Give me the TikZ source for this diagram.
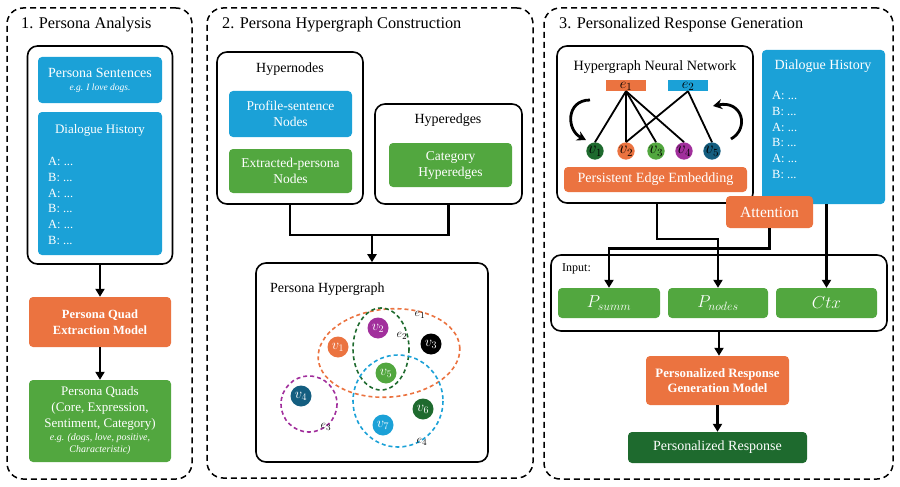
\documentclass[tikz,border=0pt]{standalone}
\usepackage{fontspec}
\setmainfont{Liberation Serif}
\usetikzlibrary{arrows.meta}
\definecolor{hblue}{HTML}{1BA1D7}
\definecolor{horange}{HTML}{EB7340}
\definecolor{hgreen}{HTML}{52A73F}
\definecolor{hdarkgreen}{HTML}{1E6A2E}
\definecolor{hpurple}{HTML}{A12F9C}
\definecolor{hteal}{HTML}{145E80}
\tikzset{>={Triangle[length=8pt,width=9pt]}}
\tikzset{
  boxsize/.style 2 args={minimum width=#1pt, minimum height=#2pt},
  panel/.style={draw, line width=1.5pt, dash pattern=on 6pt off 4pt, rounded corners=16pt},
  frame/.style={draw, line width=1.6pt, rounded corners=10pt},
  title/.style={inner sep=0pt, font=\fontsize{16.3}{19}\selectfont},
  caption/.style={inner sep=0pt, font=\fontsize{14}{16}\selectfont},
  box/.style={rounded corners=4pt, text=white, align=center, inner sep=0pt, font=\fontsize{13.5}{16}\selectfont},
  bluebox/.style={box, fill=hblue},
  orangebox/.style={box, fill=horange},
  greenbox/.style={box, fill=hgreen},
  boxtext/.style={inner sep=0pt, text=white, font=\fontsize{13}{15}\selectfont},
  lines/.style={inner sep=0pt, text=white, align=left, anchor=north west, font=\fontsize{12.5}{15.8}\selectfont},
  flow/.style={line width=2.6pt},
  vertex/.style={circle, inner sep=0pt, minimum size=21pt, text=white, font=\fontsize{14}{15}\selectfont},
  hnode/.style={circle, inner sep=0pt, minimum size=16pt, font=\fontsize{16}{16}\selectfont},
  edgelabel/.style={inner sep=0pt, font=\fontsize{13}{14}\selectfont},
  hyperedge/.style={line width=1.6pt, dash pattern=on 4pt off 3pt},
}
\begin{document}
\begin{tikzpicture}[x=1pt, y=-1pt]
\useasboundingbox (0,0) rectangle (900,487);

% 1. persona analysis
\node[panel, boxsize={185}{471}] (analysis) at (99.5,243.5) {};
\node[title, anchor=base west] (analysistitle) at (21,29) {1. Persona Analysis};
\node[frame, boxsize={145}{218}] (p1frame) at (100,155) {};
\node[bluebox, boxsize={124}{46}, font=\fontsize{14}{16}\selectfont] (sentences) at (100,80) {Persona Sentences\\[-3pt]{\fontsize{9.5}{11}\selectfont\itshape e.g. I love dogs.}};
\node[bluebox, boxsize={124}{143}] (history1) at (100,183.5) {};
\node[boxtext] (history1title) at (100,130) {Dialogue History};
\node[lines] (history1lines) at (48,157) {A: ...\\B: ...\\A: ...\\B: ...\\A: ...\\B: ...};
\node[orangebox, boxsize={142}{50}, font=\bfseries\fontsize{12.5}{16}\selectfont] (quadmodel) at (100,322) {Persona Quad\\Extraction Model};
\node[greenbox, boxsize={142}{82}, font=\fontsize{13}{16}\selectfont] (quads) at (100,421) {Persona Quads\\(Core, Expression,\\Sentiment, Category)\\[-3pt]{\fontsize{10}{11}\selectfont\itshape e.g. (dogs, love, positive,}\\[-4pt]{\fontsize{10}{11}\selectfont\itshape Characteristic)}};
\draw[->, flow] (p1frame) -- (quadmodel);
\draw[->, flow] (quadmodel) -- (quads);

% 2. persona hypergraph construction
\node[panel, boxsize={326}{470}] (construction) at (370,243) {};
\node[title, anchor=base west] (constructiontitle) at (222,29) {2. Persona Hypergraph Construction};
\node[frame, boxsize={146}{152}] (hypernodes) at (290,128) {};
\node[caption] (hypernodestitle) at (290,69) {Hypernodes};
\node[bluebox, boxsize={123}{46}] (profile) at (290.5,114) {Profile-sentence\\Nodes};
\node[greenbox, boxsize={123}{44}] (extracted) at (290.5,171) {Extracted-persona\\Nodes};
\node[frame, boxsize={147}{100}] (hyperedges) at (448.5,154) {};
\node[caption] (hyperedgestitle) at (448,120) {Hyperedges};
\node[greenbox, boxsize={123}{44}] (category) at (450.5,165) {Category\\Hyperedges};
\node[frame, boxsize={232}{199}] (hypergraph) at (372,362.5) {};
\node[caption, anchor=base west] (hypergraphtitle) at (270,292) {Persona Hypergraph};
\coordinate (join2) at (372,235);
\draw[flow] (hypernodes.south) |- (join2) -| (hyperedges.south);
\draw[->, flow] (join2) -- (hypergraph.north);

% hyperedges
\draw[hyperedge, horange] (389,353) ellipse [x radius=71, y radius=44, rotate=5];
\draw[hyperedge, hdarkgreen] (381,349) ellipse [x radius=28, y radius=41];
\draw[hyperedge, hpurple] (309,404) circle [radius=28];
\draw[hyperedge, hblue] (398,401) ellipse [x radius=45, y radius=46];
% vertices
\node[vertex, fill=horange] (gv1) at (338,347) {$v_1$};
\node[vertex, fill=hpurple] (gv2) at (378,328) {$v_2$};
\node[vertex, fill=black] (gv3) at (431,344) {$v_3$};
\node[vertex, fill=hteal] (gv4) at (301,396) {$v_4$};
\node[vertex, fill=hgreen] (gv5) at (386,373) {$v_5$};
\node[vertex, fill=hdarkgreen] (gv6) at (423,409) {$v_6$};
\node[vertex, fill=hblue] (gv7) at (383,425) {$v_7$};
\node[edgelabel] (ge1) at (420,315) {$e_1$};
\node[edgelabel] (ge2) at (402,336) {$e_2$};
\node[edgelabel] (ge3) at (326,427) {$e_3$};
\node[edgelabel] (ge4) at (422,442) {$e_4$};

% 3. personalized response generation
\node[panel, boxsize={349}{471}] (generation) at (718.5,243.5) {};
\node[title, anchor=base west] (generationtitle) at (559,29) {3. Personalized Response Generation};
\node[frame, boxsize={196}{157}] (hgnn) at (655,124.5) {};
\node[caption, font=\fontsize{14.2}{16}\selectfont] (hgnntitle) at (655,67) {Hypergraph Neural Network};
\node[fill=horange, boxsize={40}{11}, inner sep=0pt] (he1) at (626,85.5) {};
\node[fill=hblue, boxsize={40}{11}, inner sep=0pt] (he2) at (688,85.5) {};
\node[edgelabel, font=\fontsize{15}{15}\selectfont] at (626,86) {$e_1$};
\node[edgelabel, font=\fontsize{15}{15}\selectfont] at (688,86) {$e_2$};
\node[hnode, fill=hdarkgreen] (hv1) at (595,151) {$v_1$};
\node[hnode, fill=horange] (hv2) at (626,151) {$v_2$};
\node[hnode, fill=hgreen] (hv3) at (656,151) {$v_3$};
\node[hnode, fill=hpurple] (hv4) at (684,151) {$v_4$};
\node[hnode, fill=hteal] (hv5) at (712,151) {$v_5$};
\foreach \v in {hv1,hv2,hv3,hv4}
  \draw[line width=1.8pt] (he1.south) -- (\v.north);
\draw[line width=1.8pt] (he2.south) -- (hv2.north);
\draw[line width=1.8pt] (he2.south) -- (hv5.north);
\coordinate (leftloopa) at (590,100);
\coordinate (leftloopb) at (586,140);
\coordinate (rightloopa) at (731,139);
\coordinate (rightloopb) at (713,106);
\draw[-{Stealth[length=9pt,width=10pt]}, line width=2.8pt] (leftloopa) .. controls (566,100) and (566,130) .. (leftloopb);
\draw[-{Stealth[length=9pt,width=10pt]}, line width=2.8pt] (rightloopa) .. controls (750,128) and (742,100) .. (rightloopb);
\node[orangebox, boxsize={183}{25}, font=\fontsize{14.1}{15}\selectfont] (embedding) at (655.5,179.5) {Persistent Edge Embedding};
\node[bluebox, boxsize={123}{154}] (history3) at (823.5,127) {};
\node[boxtext, font=\fontsize{14}{15}\selectfont] (history3title) at (823,66) {Dialogue History};
\node[lines] (history3lines) at (772,91) {A: ...\\B: ...\\A: ...\\B: ...\\A: ...\\B: ...};
\node[orangebox, boxsize={87}{32}, font=\fontsize{15.5}{17}\selectfont] (attention) at (769.5,212) {Attention};
\node[frame, boxsize={336}{76}] (inputs) at (719,293) {};
\node[caption, anchor=base west, font=\fontsize{12}{14}\selectfont] (inputstitle) at (562,271) {Input:};
\node[greenbox, boxsize={102}{30}, font=\fontsize{16.5}{18}\selectfont] (psumm) at (609,303) {$P_{summ}$};
\node[greenbox, boxsize={100}{30}, font=\fontsize{16.5}{18}\selectfont] (pnodes) at (718,303) {$P_{nodes}$};
\node[greenbox, boxsize={101}{30}, font=\fontsize{16.5}{18}\selectfont] (ctx) at (826.5,303) {$Ctx$};
\node[orangebox, boxsize={143}{49}, font=\bfseries\fontsize{12.8}{15.5}\selectfont] (respmodel) at (717.5,380.5) {Personalized Response\\Generation Model};
\node[box, fill=hdarkgreen, boxsize={179}{31}, font=\fontsize{14}{15}\selectfont] (response) at (717.5,447.5) {Personalized Response};
\draw[->, flow] ([xshift=2pt]hgnn.south) -- ++(0,35) -| (pnodes.north);
\draw[->, flow] (attention.south) -- ++(0,20) -| (psumm.north);
\draw[->, flow] (history3.south -| ctx.north) -- (ctx.north);
\draw[->, flow] (inputs.south) -- (inputs.south |- respmodel.north);
\draw[->, flow] (respmodel) -- (response);
\end{tikzpicture}
\end{document}
